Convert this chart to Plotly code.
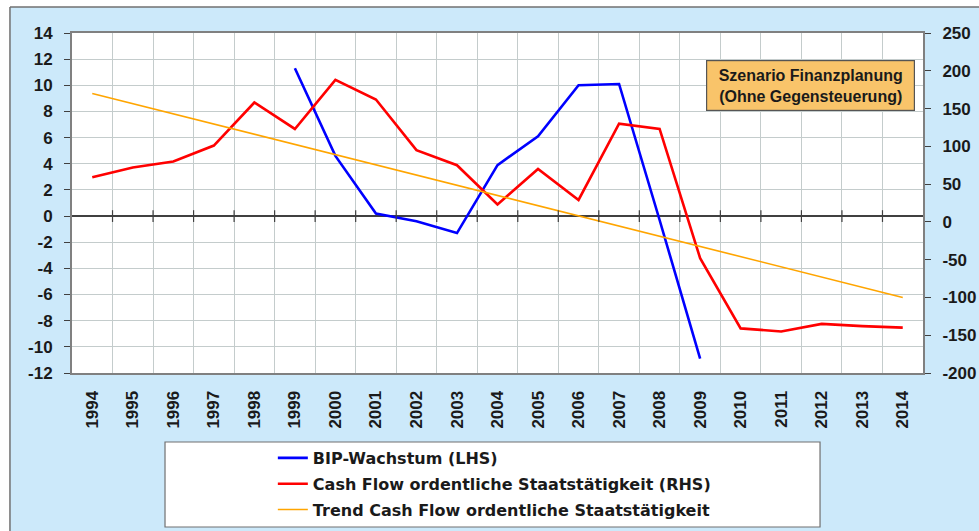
import plotly.graph_objects as go

years = [str(y) for y in range(1994, 2015)]
bip_years = ["1999", "2000", "2001", "2002", "2003", "2004", "2005", "2006", "2007", "2008", "2009"]
bip = [11.3, 4.6, 0.2, -0.4, -1.3, 3.9, 6.1, 10.0, 10.1, -0.3, -10.9]
cash_flow = [59, 72, 80, 101, 158, 123, 188, 162, 95, 75, 23, 70, 29, 130, 123,
             -48, -141, -145, -135, -138, -140]
trend = [170, 156.5, 143, 129.5, 116, 102.5, 89, 75.5, 62, 48.5, 35, 21.5, 8,
         -5.5, -19, -32.5, -46, -59.5, -73, -86.5, -100]
left_ticks = list(range(-12, 15, 2))
right_ticks = list(range(-200, 251, 50))
marker_years = ["2003", "2007"]

FONT = "Arial, 'Liberation Sans', sans-serif"
LEGFONT = "'DejaVu Sans', Arial, sans-serif"
TXT = "#1a1a1a"
GRID = "#c4cccc"
AX = "#808080"

fig = go.Figure()
fig.add_trace(go.Scatter(x=bip_years, y=bip, mode="lines", name="<b>BIP-Wachstum (LHS)</b>",
                         line=dict(color="#0000FF", width=2.6), legendgroup="a"))
fig.add_trace(go.Scatter(x=years, y=cash_flow, mode="lines",
                         name="<b>Cash Flow ordentliche Staatstätigkeit (RHS)</b>",
                         line=dict(color="#FF0000", width=2.6), yaxis="y2", legendgroup="b"))
fig.add_trace(go.Scatter(x=years, y=trend, mode="lines",
                         name="<b>Trend Cash Flow ordentliche Staatstätigkeit</b>",
                         line=dict(color="#FFA500", width=1.6), yaxis="y2", legendgroup="c"))

shapes = []
# white page corners + gray frame of the light-blue panel
shapes.append(dict(type="rect", xref="paper", yref="paper", x0=-0.1, x1=1.2, y0=1.0765, y1=1.12,
                   fillcolor="white", line=dict(width=0), layer="below"))
shapes.append(dict(type="rect", xref="paper", yref="paper", x0=-0.1, x1=-0.0729, y0=-0.6, y1=1.12,
                   fillcolor="white", line=dict(width=0), layer="below"))
shapes.append(dict(type="line", xref="paper", yref="paper", x0=-0.0729, x1=1.2, y0=1.0765, y1=1.0765,
                   line=dict(color="#707070", width=1.5)))
shapes.append(dict(type="line", xref="paper", yref="paper", x0=-0.0729, x1=-0.0729, y0=-0.6, y1=1.0765,
                   line=dict(color="#707070", width=1.5)))
# legend box
shapes.append(dict(type="rect", xref="paper", yref="paper", x0=0.1093, x1=0.879, y0=-0.453, y1=-0.203,
                   fillcolor="white", line=dict(color="#707070", width=1.2), layer="below"))
# vertical dashed marker lines
for yr in marker_years:
    shapes.append(dict(type="line", xref="x", yref="paper", x0=yr, x1=yr, y0=0, y1=1,
                       line=dict(color="#202020", width=1.6, dash="dash")))
# small tick marks on the zero line at category boundaries
for i in range(1, len(years)):
    shapes.append(dict(type="line", xref="x", yref="y", x0=i - 0.5, x1=i - 0.5, y0=-0.45, y1=0.45,
                       line=dict(color="#404040", width=1.2)))

fig.update_layout(
    width=979, height=531,
    margin=dict(l=72, r=56, t=33, b=158, autoexpand=False),
    paper_bgcolor="#CCE9FA",
    plot_bgcolor="white",
    font=dict(family=FONT, size=17, color=TXT),
    showlegend=True,
    legend=dict(x=0.236, y=-0.2, xanchor="left", yanchor="top", bgcolor="rgba(0,0,0,0)",
                borderwidth=0, font=dict(family=LEGFONT, size=16, color=TXT),
                tracegroupgap=2, itemwidth=30),
    xaxis=dict(type="category", categoryorder="array", categoryarray=years,
               range=[-0.5, len(years) - 0.5], tickson="boundaries",
               showgrid=True, gridcolor=GRID, gridwidth=1,
               showline=True, linecolor=AX, linewidth=2, mirror=True,
               ticks="", tickangle=-90, tickvals=years,
               ticktext=[f"<b>{y}</b>" for y in years], ticklabelstandoff=9,
               tickfont=dict(size=17, color=TXT), zeroline=False, automargin=False),
    yaxis=dict(range=[-12, 14], tickvals=left_ticks, ticktext=[f"<b>{v}</b>" for v in left_ticks],
               showgrid=True, gridcolor=GRID, gridwidth=1,
               showline=True, linecolor=AX, linewidth=2, mirror=True,
               ticks="outside", ticklen=6, tickcolor="#404040", tickwidth=1.2,
               ticklabelstandoff=8, automargin=False,
               zeroline=True, zerolinecolor="#404040", zerolinewidth=1.5,
               tickfont=dict(size=17, color=TXT)),
    yaxis2=dict(range=[-200, 250], tickvals=right_ticks, ticktext=[f"<b>{v}</b>" for v in right_ticks],
                overlaying="y", side="right", showgrid=False, zeroline=False,
                showline=True, linecolor=AX, linewidth=2,
                ticks="outside", ticklen=6, tickcolor="#404040", tickwidth=1.2,
                ticklabelstandoff=8, automargin=False,
                tickfont=dict(size=17, color=TXT)),
    shapes=shapes,
    annotations=[dict(xref="paper", yref="paper", x=0.868, y=0.8456, xanchor="center", yanchor="middle",
                      text="<b>Szenario Finanzplanung<br>(Ohne Gegensteuerung)</b>", showarrow=False,
                      font=dict(size=16, color=TXT), align="center",
                      bgcolor="#F9C46A", bordercolor="#555555", borderwidth=1.2, borderpad=5,
                      width=197, height=39)],
)

fig.write_html("out.html", config={"displayModeBar": False},
               post_script="document.body.style.margin='0';document.body.style.overflow='hidden';")
